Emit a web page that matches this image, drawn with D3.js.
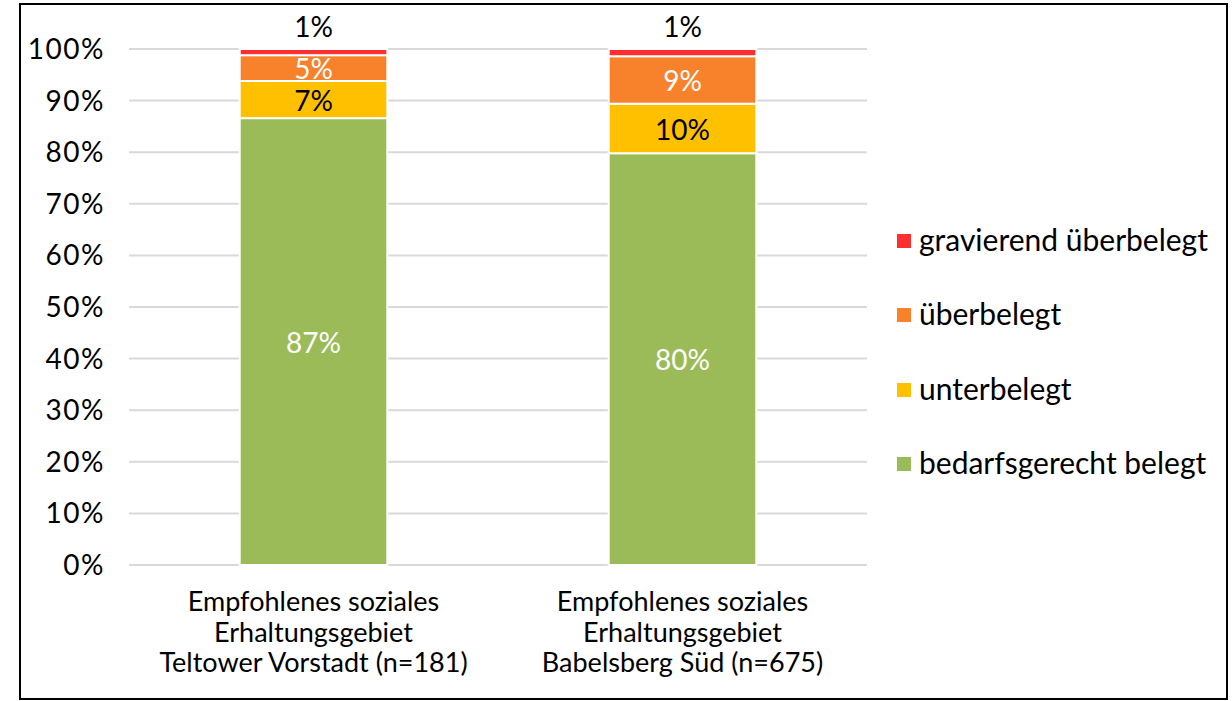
<!DOCTYPE html>
<html>
<head>
<meta charset="utf-8">
<script src="https://cdn.jsdelivr.net/npm/d3@7"></script>
<style>
  body { margin: 0; background: #fff; }
  svg text { font-family: "Lato", "Noto Sans", sans-serif; }
</style>
</head>
<body>
<svg id="chart" width="1232" height="701"></svg>
<script>
// categories (x axis, multi-line)
const categories = [
    ["Empfohlenes soziales", "Erhaltungsgebiet", "Teltower Vorstadt (n=181)"],
    ["Empfohlenes soziales", "Erhaltungsgebiet", "Babelsberg Süd (n=675)"]
];
const seriesNames = ["bedarfsgerecht belegt", "unterbelegt", "überbelegt", "gravierend überbelegt"];
const seriesColors = ["#9bbb59", "#ffc000", "#f8812b", "#ff2f2f"];
const labelColors = ["#fff", "#000", "#fff", "#000"];

// values in percent, per series, per category
const bedarfsgerecht = [86.6, 79.8];
const unterbelegt = [7.2, 9.6];
const ueberbelegt = [5.0, 9.2];
const gravierend = [1.2, 1.4];
const shownLabels = [["87%", "80%"], ["7%", "10%"], ["5%", "9%"], ["1%", "1%"]];

const yTicks = [0, 10, 20, 30, 40, 50, 60, 70, 80, 90, 100];

const svg = d3.select("#chart");

// outer frame
svg.append("rect")
    .attr("x", 20).attr("y", 4)
    .attr("width", 1207).attr("height", 695)
    .attr("fill", "none")
    .attr("stroke", "#000")
    .attr("stroke-width", 2);

const plot = {left: 129, right: 867, top: 49, bottom: 565};

const x = d3.scaleBand()
    .domain(d3.range(categories.length))
    .range([plot.left, plot.right])
    .paddingInner(0.6)
    .paddingOuter(0.3);

const y = d3.scaleLinear()
    .domain([0, 100])
    .range([plot.bottom, plot.top]);

// gridlines
svg.append("g")
    .selectAll("line")
    .data(yTicks)
    .join("line")
        .attr("x1", plot.left)
        .attr("x2", plot.right)
        .attr("y1", d => y(d))
        .attr("y2", d => y(d))
        .attr("stroke", "#d9d9d9")
        .attr("stroke-width", 2);

// y tick labels
svg.append("g")
    .selectAll("text")
    .data(yTicks)
    .join("text")
        .attr("x", 105)
        .attr("y", d => y(d))
        .attr("dy", "0.36em")
        .attr("text-anchor", "end")
        .attr("font-size", 28)
        .attr("letter-spacing", 1.5)
        .attr("fill", "#000")
        .text(d => d + "%");

// stack
const rows = categories.map((c, i) => ({
    i,
    s0: bedarfsgerecht[i],
    s1: unterbelegt[i],
    s2: ueberbelegt[i],
    s3: gravierend[i]
}));
const stacked = d3.stack().keys(["s0", "s1", "s2", "s3"])(rows);

const layers = svg.append("g")
    .selectAll("g")
    .data(stacked)
    .join("g")
        .attr("fill", (d, k) => seriesColors[k]);

layers.selectAll("rect")
    .data(d => d)
    .join("rect")
        .attr("x", d => x(d.data.i))
        .attr("width", x.bandwidth())
        .attr("y", d => y(d[1]))
        .attr("height", d => y(d[0]) - y(d[1]))
        .attr("stroke", "#fff")
        .attr("stroke-width", 2);

// data labels
stacked.forEach((layer, k) => {
    svg.append("g")
        .selectAll("text")
        .data(layer)
        .join("text")
            .attr("x", d => x(d.data.i) + x.bandwidth() / 2)
            .attr("y", d => k === 3 ? y(d[1]) - 22.5 : y((d[0] + d[1]) / 2) + 1)
            .attr("dy", "0.36em")
            .attr("text-anchor", "middle")
            .attr("font-size", 28)
            .attr("fill", labelColors[k])
            .text((d, j) => shownLabels[k][j]);
});

// category labels
const cat = svg.append("g")
    .selectAll("text")
    .data(categories)
    .join("text")
        .attr("text-anchor", "middle")
        .attr("font-size", 27)
        .attr("fill", "#000")
        .attr("transform", (d, i) => `translate(${x(i) + x.bandwidth() / 2},611)`);
cat.selectAll("tspan")
    .data(d => d)
    .join("tspan")
        .attr("x", 0)
        .attr("y", (d, j) => j * 30.5)
        .text(d => d);

// legend
const legendY = [464, 390, 315, 241];
const legend = svg.append("g")
    .selectAll("g")
    .data(seriesNames)
    .join("g")
        .attr("transform", (d, k) => `translate(897,${legendY[k]})`);
legend.append("rect")
    .attr("x", 0).attr("y", -7)
    .attr("width", 14).attr("height", 14)
    .attr("fill", (d, k) => seriesColors[k]);
legend.append("text")
    .attr("x", 22)
    .attr("dy", "0.33em")
    .attr("font-size", 30)
    .attr("fill", "#000")
    .text(d => d);
</script>
</body>
</html>
